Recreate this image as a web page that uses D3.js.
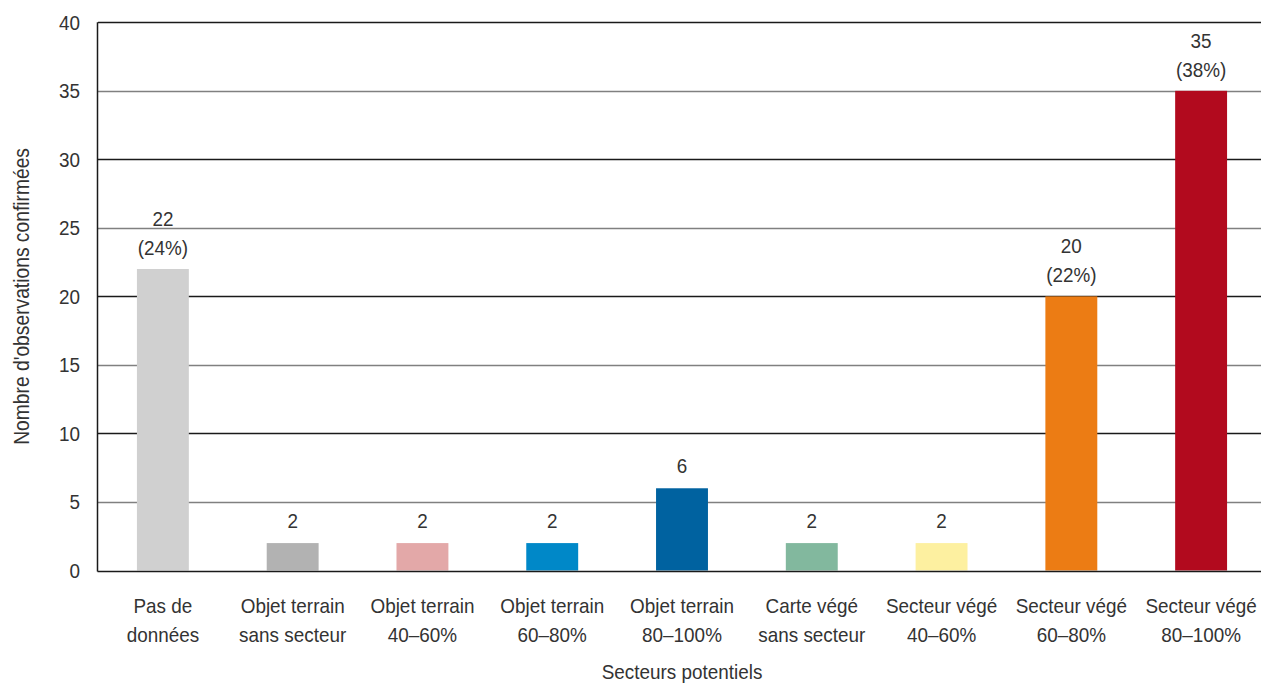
<!DOCTYPE html>
<html>
<head>
<meta charset="utf-8">
<script src="https://cdn.jsdelivr.net/npm/d3@7.9.0/dist/d3.min.js"></script>
<style>
  html, body { margin: 0; padding: 0; background: #fff; }
  svg { display: block; }
  text { font-family: "Liberation Sans", Arial, sans-serif; fill: #333; font-size: 21px; }
</style>
</head>
<body>
<div id="chart"></div>
<script>
const categories = [
  ['Pas de', 'données'],
  ['Objet terrain', 'sans secteur'],
  ['Objet terrain', '40–60%'],
  ['Objet terrain', '60–80%'],
  ['Objet terrain', '80–100%'],
  ['Carte végé', 'sans secteur'],
  ['Secteur végé', '40–60%'],
  ['Secteur végé', '60–80%'],
  ['Secteur végé', '80–100%']
];
const counts = [22, 2, 2, 2, 6, 2, 2, 20, 35];
const shares = ['24%', null, null, null, null, null, null, '22%', '38%'];
const barColors = ['#d0d0d0', '#b2b2b2', '#e3a8a8', '#0088c8', '#0062a0', '#82b89e', '#fdf0a0', '#ec7c14', '#b20a1e'];
const yTicks = [0, 5, 10, 15, 20, 25, 30, 35, 40];

const width = 1261;
const height = 684;
const margin = { top: 22.3, right: -5, bottom: 113.5, left: 98 };
const narrow = 0.9; // horizontal squeeze to mimic a condensed face

const svg = d3.select('#chart')
  .append('svg')
  .attr('width', width)
  .attr('height', height);

const xScale = d3.scaleBand()
  .domain(d3.range(categories.length))
  .range([margin.left, width - margin.right])
  .paddingInner(0.6)
  .paddingOuter(0.3);

const yScale = d3.scaleLinear()
  .domain([0, 40])
  .range([height - margin.bottom, margin.top]);

const at = (x, y) => `translate(${x},${y}) scale(${narrow},1)`;

// gridlines, alternating dark / grey
svg.append('g')
  .selectAll('line')
  .data(yTicks.filter(d => d > 0))
  .join('line')
  .attr('x1', margin.left)
  .attr('x2', width)
  .attr('y1', d => Math.round(yScale(d)) + 0.5)
  .attr('y2', d => Math.round(yScale(d)) + 0.5)
  .attr('stroke', d => d % 10 === 0 ? '#1a1a1a' : '#808080')
  .attr('stroke-width', 1.3);

// bars
svg.append('g')
  .selectAll('rect')
  .data(counts)
  .join('rect')
  .attr('x', (d, i) => xScale(i))
  .attr('y', d => yScale(d))
  .attr('width', xScale.bandwidth())
  .attr('height', d => yScale(0) - yScale(d))
  .attr('fill', (d, i) => barColors[i]);

// axes
const y0 = Math.round(yScale(0)) + 0.5;
svg.append('line')
  .attr('x1', margin.left - 0.5).attr('x2', width)
  .attr('y1', y0).attr('y2', y0)
  .attr('stroke', '#1a1a1a').attr('stroke-width', 1.5);
svg.append('line')
  .attr('x1', margin.left - 0.5).attr('x2', margin.left - 0.5)
  .attr('y1', yScale(40)).attr('y2', y0)
  .attr('stroke', '#1a1a1a').attr('stroke-width', 1.5);

// y tick labels
svg.append('g')
  .selectAll('text')
  .data(yTicks)
  .join('text')
  .attr('transform', d => at(80, yScale(d) + 7.5))
  .attr('text-anchor', 'end')
  .text(d => d);

// value labels
svg.append('g')
  .selectAll('text')
  .data(counts)
  .join('text')
  .attr('text-anchor', 'middle')
  .attr('transform', (d, i) => at(xScale(i) + xScale.bandwidth() / 2, yScale(d)))
  .each(function (d, i) {
    const t = d3.select(this);
    if (shares[i]) {
      t.append('tspan').attr('x', 0).attr('y', -43).text(d);
      t.append('tspan').attr('x', 0).attr('y', -14).text(`(${shares[i]})`);
    } else {
      t.attr('y', -15).text(d);
    }
  });

// category labels
svg.append('g')
  .selectAll('text')
  .data(categories)
  .join('text')
  .attr('text-anchor', 'middle')
  .attr('transform', (d, i) => at(xScale(i) + xScale.bandwidth() / 2, 613))
  .each(function (lines) {
    const t = d3.select(this);
    lines.forEach((line, k) => {
      t.append('tspan').attr('x', 0).attr('y', k * 29).text(line);
    });
  });

// axis titles
svg.append('text')
  .attr('transform', at(682, 679))
  .attr('text-anchor', 'middle')
  .text('Secteurs potentiels');

svg.append('text')
  .attr('transform', `translate(29, ${(yScale(0) + yScale(40)) / 2}) rotate(-90) scale(${narrow},1)`)
  .attr('text-anchor', 'middle')
  .style('font-size', '21.4px')
  .text("Nombre d'observations confirmées");
</script>
</body>
</html>
